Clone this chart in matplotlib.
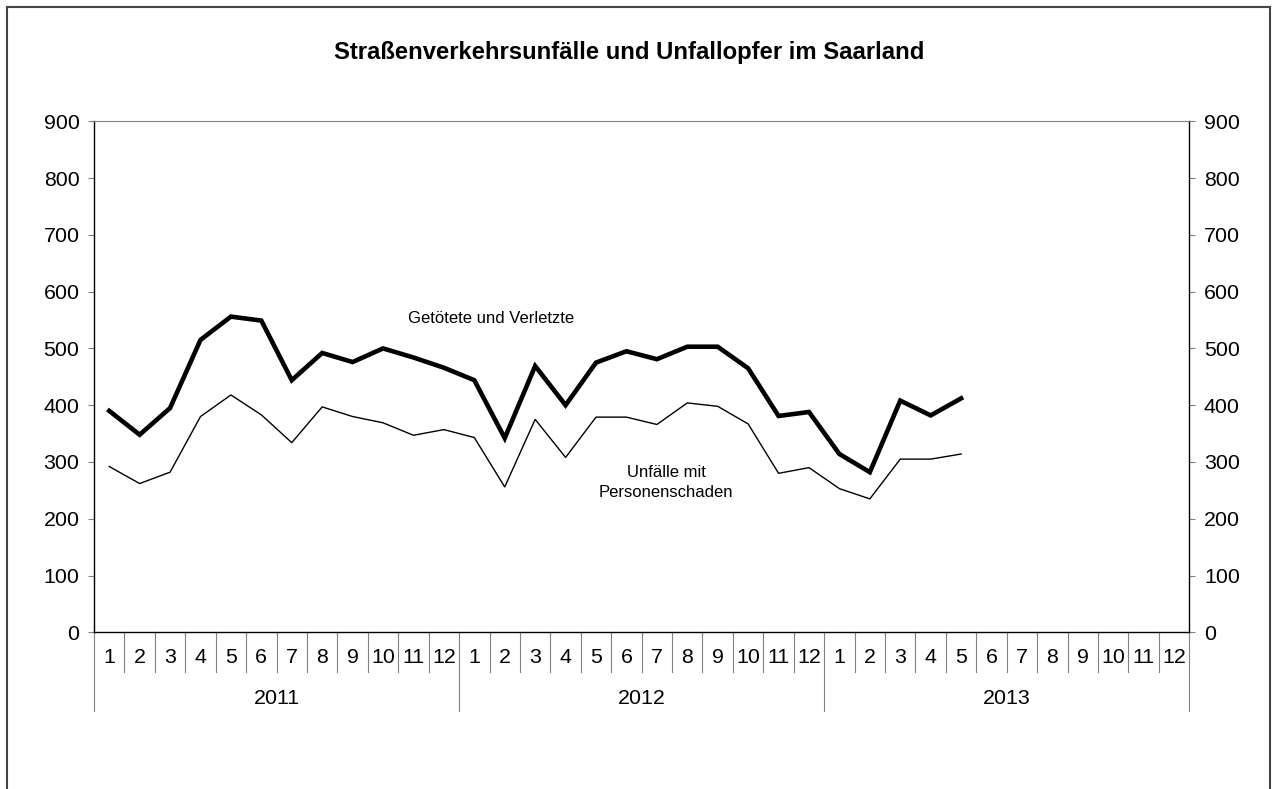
import numpy as np
import matplotlib
import matplotlib.pyplot as plt
from matplotlib.lines import Line2D
import matplotlib.transforms as mtransforms

matplotlib.use("Agg")
plt.rcParams["font.family"] = ["Liberation Sans", "DejaVu Sans"]

# Daten (Monatswerte 2011-2013)
jahre = ["2011", "2012", "2013"]
monate = [str(m) for m in range(1, 13)]

getoetete_verletzte = [390, 348, 395, 515, 556, 549, 444, 492, 476, 500, 484, 466,
                       444, 342, 469, 400, 475, 495, 481, 503, 503, 465, 381, 388,
                       314, 282, 408, 382, 412]
unfaelle_personenschaden = [292, 262, 282, 380, 418, 383, 334, 397, 380, 369, 347, 357,
                            343, 256, 375, 308, 379, 379, 366, 404, 398, 367, 280, 290,
                            253, 235, 305, 305, 314]

W, H = 1279, 789
fig = plt.figure(figsize=(W / 100, H / 100), dpi=100)

# Plotbereich in Pixeln
x0, x1 = 94, 1189.3
y_top, y_bot = 121.3, 632.3
ax = fig.add_axes([x0 / W, (H - y_bot) / H, (x1 - x0) / W, (y_bot - y_top) / H])

n = len(jahre) * 12
x1_ = np.arange(len(getoetete_verletzte))
x2_ = np.arange(len(unfaelle_personenschaden))

ax.plot(x1_, getoetete_verletzte, color="black", lw=3.3, solid_joinstyle="miter")
ax.plot(x2_, unfaelle_personenschaden, color="black", lw=1.0)

ax.set_xlim(-0.5, n - 0.5)
ax.set_ylim(0, 900)
ax.set_yticks(range(0, 901, 100))
ax.tick_params(axis="y", direction="out", length=4.5, color="gray", labelsize=15.4,
               pad=6, left=True, right=True, labelleft=True, labelright=True)
ax.set_xticks(np.arange(n))
ax.set_xticklabels(monate * len(jahre))
ax.tick_params(axis="x", length=0, labelsize=15.4, pad=11)

for s in ["left", "right", "bottom"]:
    ax.spines[s].set_color("black")
    ax.spines[s].set_linewidth(1.0)
ax.spines["top"].set_color("gray")
ax.spines["top"].set_linewidth(0.8)

# Trennlinien der Kategorienachse
trans = mtransforms.blended_transform_factory(ax.transData, ax.transAxes)
h_ax = y_bot - y_top
for k in range(n + 1):
    tiefe = 79 if k % 12 == 0 else 40
    ax.add_line(Line2D([k - 0.5, k - 0.5], [0, -tiefe / h_ax], transform=trans,
                       color="gray", lw=0.8, clip_on=False))
for j, jahr in enumerate(jahre):
    ax.text(j * 12 + 5.5, -66 / h_ax, jahr, transform=trans, ha="center", va="center",
            fontsize=15.4)

# Beschriftungen der Linien
ax.text(12.56, 553, "Getötete und Verletzte", ha="center", va="center", fontsize=12)
ax.text(18.3, 264, "Unfälle mit\nPersonenschaden", ha="center", va="center",
        fontsize=12, linespacing=1.45)

fig.text(629 / W, 1 - 52 / H, "Straßenverkehrsunfälle und Unfallopfer im Saarland",
         ha="center", va="center", fontsize=17.2, fontweight="bold")

# äußerer Rahmen
fig.add_artist(Line2D([7 / W, 7 / W], [0, 1 - 7 / H], transform=fig.transFigure,
                      color="#444444", lw=1.5))
fig.add_artist(Line2D([1270 / W, 1270 / W], [0, 1 - 7 / H], transform=fig.transFigure,
                      color="#444444", lw=1.5))
fig.add_artist(Line2D([7 / W, 1270 / W], [1 - 7 / H, 1 - 7 / H], transform=fig.transFigure,
                      color="#444444", lw=1.5))

fig.savefig("out.png", dpi=100)
